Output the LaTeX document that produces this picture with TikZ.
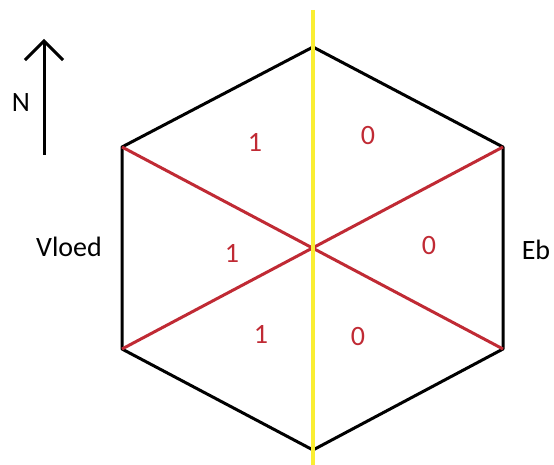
\documentclass[tikz,border=0pt]{standalone}
\usepackage{fontspec}
\setmainfont{Carlito}
\usepackage{xcolor}
\usetikzlibrary{arrows.meta}

\definecolor{tideRed}{RGB}{192,42,52}
\definecolor{axisYellow}{RGB}{250,238,50}

\begin{document}
\begin{tikzpicture}[
  x=1pt, y=-1pt,
  edge/.style={draw=black, line width=3pt, line join=round},
  split/.style={draw=tideRed, line width=3pt},
  axis/.style={draw=axisYellow, line width=4pt},
  digit/.style={text=tideRed, font=\fontsize{28}{34}\selectfont, inner sep=0pt},
  side/.style={text=black, font=\fontsize{28}{34}\selectfont, inner sep=0pt},
  north/.style={-{Straight Barb[length=19pt, width=38pt, line width=3pt]}, line width=3pt}
]
\useasboundingbox (0,0) rectangle (554,465);

% hexagon corners
\coordinate (top) at (313,47);
\coordinate (ul) at (122,147);
\coordinate (ur) at (503,147);
\coordinate (ll) at (122,349);
\coordinate (lr) at (503,349);
\coordinate (bot) at (313,450);
\coordinate (axtop) at (313,10);
\coordinate (axbot) at (313,465);

\draw[edge] (top) -- (ur) -- (lr) -- (bot) -- (ll) -- (ul) -- cycle;
\draw[split] (ul) -- (lr);
\draw[split] (ll) -- (ur);
\draw[axis] (axtop) -- (axbot);

% sector labels
\node[digit] (w1) at (255,142) {1};
\node[digit] (e1) at (368,136) {0};
\node[digit] (w2) at (232,253) {1};
\node[digit] (e2) at (429,246) {0};
\node[digit] (w3) at (261,334) {1};
\node[digit] (e3) at (358,337) {0};

\node[side] (vloed) at (69,247) {Vloed};
\node[side] (eb) at (536,250) {Eb};

% north arrow
\coordinate (nfoot) at (44,155);
\coordinate (nhead) at (44,39);
\draw[north] (nfoot) -- (nhead);
\node[side] (nlabel) at (21,103) {N};
\end{tikzpicture}
\end{document}
